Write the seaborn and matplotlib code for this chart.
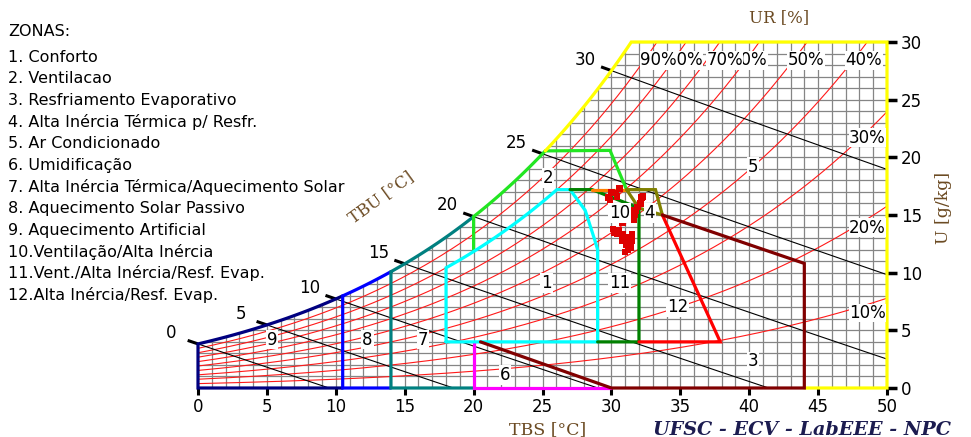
import numpy as np
import pandas as pd
import matplotlib
matplotlib.use("Agg")
import matplotlib.pyplot as plt
from matplotlib.patches import Polygon
import seaborn as sns

sns.set_theme(style="white")
plt.rcParams["font.family"] = ["DejaVu Sans"]
plt.rcParams["text.color"] = "black"

P_ATM = 100.0  # kPa


def p_sat(t):
    return 0.61094 * np.exp(17.625 * t / (t + 243.04))


def w_rh(t, rh):
    pv = rh * p_sat(t)
    return 622.0 * pv / (P_ATM - pv)


def t_at_w(w, rh=1.0):
    pv = w * P_ATM / (622.0 + w)
    g = np.log(pv / rh / 0.61094)
    return 243.04 * g / (17.625 - g)


def w_wetbulb(t, twb):
    ws = w_rh(twb, 1.0) / 1000.0
    w = ((2501 - 2.326 * twb) * ws - 1.006 * (t - twb)) / (2501 + 1.86 * t - 4.186 * twb)
    return 1000.0 * w


def sat_curve(t0, t1, n=60):
    t = np.linspace(t0, t1, n)
    return list(zip(t, w_rh(t, 1.0)))


# ---- chart data ----
x_ticks = [0, 5, 10, 15, 20, 25, 30, 35, 40, 45, 50]
y_ticks = [0, 5, 10, 15, 20, 25, 30]
rh_levels = [0.1, 0.2, 0.3, 0.4, 0.5, 0.6, 0.7, 0.8, 0.9]
rh_top_labels = ["40%", "50%", "60%", "70%", "80%", "90%"]
rh_top_t = [47.0, 42.8, 38.7, 36.9, 34.0, 32.1]
rh_side_labels = ["10%", "20%", "30%"]
rh_side_w = [6.5, 13.9, 21.7]
twb_levels = [0, 5, 10, 15, 20, 25, 30]
twb_labels = ["0", "5", "10", "15", "20", "25", "30"]

legend_title = "ZONAS:"
legend_items = [
    "1. Conforto",
    "2. Ventilacao",
    "3. Resfriamento Evaporativo",
    "4. Alta Inércia Térmica p/ Resfr.",
    "5. Ar Condicionado",
    "6. Umidificação",
    "7. Alta Inércia Térmica/Aquecimento Solar",
    "8. Aquecimento Solar Passivo",
    "9. Aquecimento Artificial",
    "10.Ventilação/Alta Inércia",
    "11.Vent./Alta Inércia/Resf. Evap.",
    "12.Alta Inércia/Resf. Evap.",
]

zone_ids = ["1", "2", "3", "4", "5", "6", "7", "8", "9", "10", "11", "12"]
zone_id_t = [25.3, 25.4, 40.3, 32.8, 40.3, 22.3, 16.3, 12.3, 5.4, 30.6, 30.6, 34.8]
zone_id_w = [9.1, 18.2, 2.3, 15.2, 19.2, 1.1, 4.2, 4.2, 4.2, 15.2, 9.1, 7.0]

# measured conditions (dry bulb °C, humidity ratio g/kg)
obs_t = [30.6, 30.3, 29.8, 29.9, 30.4, 30.0, 32.2, 32.1, 32.3, 31.8, 31.7, 31.9,
         31.6, 31.6, 30.1, 30.5, 30.8, 30.8, 31.2, 31.5, 31.5, 31.1, 31.2, 31.0,
         31.3, 30.4, 30.8, 31.6, 30.2, 31.4]
obs_w = [17.3, 16.9, 16.5, 16.3, 16.6, 17.0, 16.5, 16.0, 16.6, 15.4, 15.0, 15.7,
         15.4, 14.8, 13.8, 13.7, 13.3, 12.8, 13.1, 13.3, 12.8, 12.4, 12.0, 11.8,
         12.6, 13.4, 14.3, 14.6, 13.5, 12.2]

# zone boundaries (dry bulb °C, humidity ratio g/kg)
t_heat_art, t_heat_sol, t_mass_sol = 10.5, 14.0, 20.0
comfort_right = [(27.0, 17.2), (28.1, 15.4), (28.8, 12.8), (29.0, 12.0), (29.0, 4.0)]
vent_corner = [(29.9, 20.6), (31.1, 17.2)]
vent_mass = [(27.0, 17.2), (28.6, 17.2), (32.0, 15.6), (32.0, 4.0), (29.0, 4.0)]
vent_join = [(28.6, 17.2), (31.1, 17.2)]
mass_cool = [(31.1, 17.2), (33.2, 17.2), (33.7, 15.0), (32.0, 15.6), (31.1, 17.2)]
mass_evap = [(33.7, 15.0), (37.9, 4.0), (32.0, 4.0)]
evap = [(33.7, 15.0), (44.0, 10.8), (44.0, 0.0), (30.0, 0.0), (20.5, 4.0)]
humid = [(20.0, 4.0), (20.0, 0.0), (30.0, 0.0)]

# ---- figure ----
fig = plt.figure(figsize=(9.71, 4.37), dpi=100)
ax = fig.add_axes([198 / 971, 49 / 437, 689 / 971, 346 / 437])
ax.set_xlim(0, 50)
ax.set_ylim(0, 30)
ax.set_facecolor("white")
for s in ax.spines.values():
    s.set_visible(False)

t30 = t_at_w(30.0)
region = sat_curve(0, t30, 120) + [(50, 30), (50, 0), (0, 0)]
clip = Polygon(region, closed=True, transform=ax.transData, facecolor="none", edgecolor="none")
ax.add_patch(clip)

# grid under the saturation curve
gv = ax.vlines(np.arange(0, 51, 1), 0, 30, color="#858585", lw=0.9, zorder=1)
gh = ax.hlines(np.arange(0, 31, 1), 0, 50, color="#858585", lw=0.9, zorder=1)
gv.set_clip_path(clip)
gh.set_clip_path(clip)

# relative humidity curves
tt = np.linspace(0, 50, 300)
rh_df = pd.concat([pd.DataFrame({"T": tt, "W": w_rh(tt, r), "RH": r}) for r in rh_levels])
sns.lineplot(data=rh_df, x="T", y="W", units="RH", estimator=None, sort=False,
             color="#ff1a1a", lw=0.8, ax=ax, legend=False, zorder=2)

# wet bulb lines
wb_rows = []
for twb in twb_levels:
    t = np.linspace(twb, 50, 300)
    w = w_wetbulb(t, twb)
    keep = w >= 0
    wb_rows.append(pd.DataFrame({"T": t[keep], "W": w[keep], "TWB": twb}))
wb_df = pd.concat(wb_rows)
sns.lineplot(data=wb_df, x="T", y="W", units="TWB", estimator=None, sort=False,
             color="black", lw=0.8, ax=ax, legend=False, zorder=2)
for twb, lab in zip(twb_levels, twb_labels):
    ts = np.array([twb - 0.75, twb])
    ax.plot(ts, w_wetbulb(ts, twb), color="black", lw=2.2, clip_on=False, zorder=3,
            solid_capstyle="butt")
    ax.annotate(lab, (twb, w_rh(twb, 1.0)), xytext=(-19, 8), textcoords="offset points",
                ha="center", va="center", fontsize=12, color="black", annotation_clip=False)

# zone outlines
def outline(pts, color, z=4):
    arr = np.array(pts)
    ax.plot(arr[:, 0], arr[:, 1], color=color, lw=2.3, zorder=z, clip_on=False,
            solid_joinstyle="miter")

outline([(t_heat_art, 0), (0, 0)] + sat_curve(0, t_heat_art), "#000080")
outline([(t_heat_sol, 0), (t_heat_art, 0)] + sat_curve(t_heat_art, t_heat_sol), "#0000ff")
outline([(t_mass_sol, 0), (t_heat_sol, 0)] + sat_curve(t_heat_sol, t_mass_sol), "#008080")
outline(humid, "#ff00ff")
outline([(20.0, w_rh(20.0, 0.8))] + sat_curve(20.0, 25.2) + vent_corner, "#22e622")
outline(sat_curve(25.2, t30) + [(50, 30), (50, 0), (44, 0)], "#ffff00")
rh80 = [(t, w_rh(t, 0.8)) for t in np.linspace(18.0, t_at_w(17.2, 0.8), 40)]
outline([(18.0, 4.0)] + rh80 + comfort_right + [(18.0, 4.0)], "#00ffff", z=5)
outline(vent_mass, "#008000", z=5)
outline(vent_join, "#ff8000", z=5)
outline(mass_cool, "#808000", z=5)
outline(mass_evap, "#ff0000", z=5)
outline(evap, "#800000", z=5)

# measured points
sns.scatterplot(x=obs_t, y=obs_w, marker="s", s=22, color="#dd0000", edgecolor="none",
                ax=ax, zorder=6, legend=False)

# zone numbers
box = dict(facecolor="white", edgecolor="none", pad=0.6)
for lab, t, w in zip(zone_ids, zone_id_t, zone_id_w):
    ax.text(t, w, lab, ha="center", va="center", fontsize=12, color="black", bbox=box, zorder=7)

# relative humidity labels (later ones sit on top of earlier ones)
for lab, t in zip(rh_top_labels, rh_top_t):
    ax.text(t, 28.4, lab, ha="left", va="center", fontsize=12,
            bbox=dict(facecolor="white", edgecolor="none", pad=0.3), zorder=7)
for lab, w in zip(rh_side_labels, rh_side_w):
    ax.text(49.9, w, lab, ha="right", va="center", fontsize=12,
            bbox=dict(facecolor="white", edgecolor="none", pad=0.3), zorder=7)

# axes ticks
ax.set_xticks(x_ticks)
ax.set_yticks(y_ticks)
ax.tick_params(axis="x", bottom=True, direction="out", length=5, width=2.2, pad=2,
               labelsize=12, color="black", labelcolor="black")
ax.tick_params(axis="y", left=False, right=True, labelleft=False, labelright=True,
               direction="out", length=7, width=2.5, pad=3, labelsize=12,
               color="black", labelcolor="black")
ax.set_xlabel("")
ax.set_ylabel("")

serif = ["DejaVu Serif"]
brown = "#6b4a22"
ax.text(25.4, -3.6, "TBS [°C]", ha="center", va="center", fontsize=12.5, family=serif,
        color=brown, clip_on=False)
ax.text(43.8, -3.6, "UFSC - ECV - LabEEE - NPC", ha="center", va="center", fontsize=13.8,
        family=serif, weight="bold", style="italic", color="#1c1c50", clip_on=False)
ax.text(42.2, 32.1, "UR [%]", ha="center", va="center", fontsize=12, family=serif,
        color=brown, clip_on=False)
ax.text(54.1, 15.6, "U [g/kg]", ha="center", va="center", fontsize=12.5, family=serif,
        color=brown, rotation=90, clip_on=False)
ax.text(13.3, 16.5, "TBU [°C]", ha="center", va="center", fontsize=12, family=serif,
        color=brown, rotation=36, clip_on=False)

# zone legend
fig.text(8 / 971, 1 - 35.5 / 437, legend_title, ha="left", va="baseline", fontsize=11.5,
         color="black")
for i, item in enumerate(legend_items):
    fig.text(8 / 971, 1 - (61.7 + 21.65 * i) / 437, item, ha="left", va="baseline",
             fontsize=11.5, color="black")

fig.savefig("out.png", dpi=100, facecolor="white")
